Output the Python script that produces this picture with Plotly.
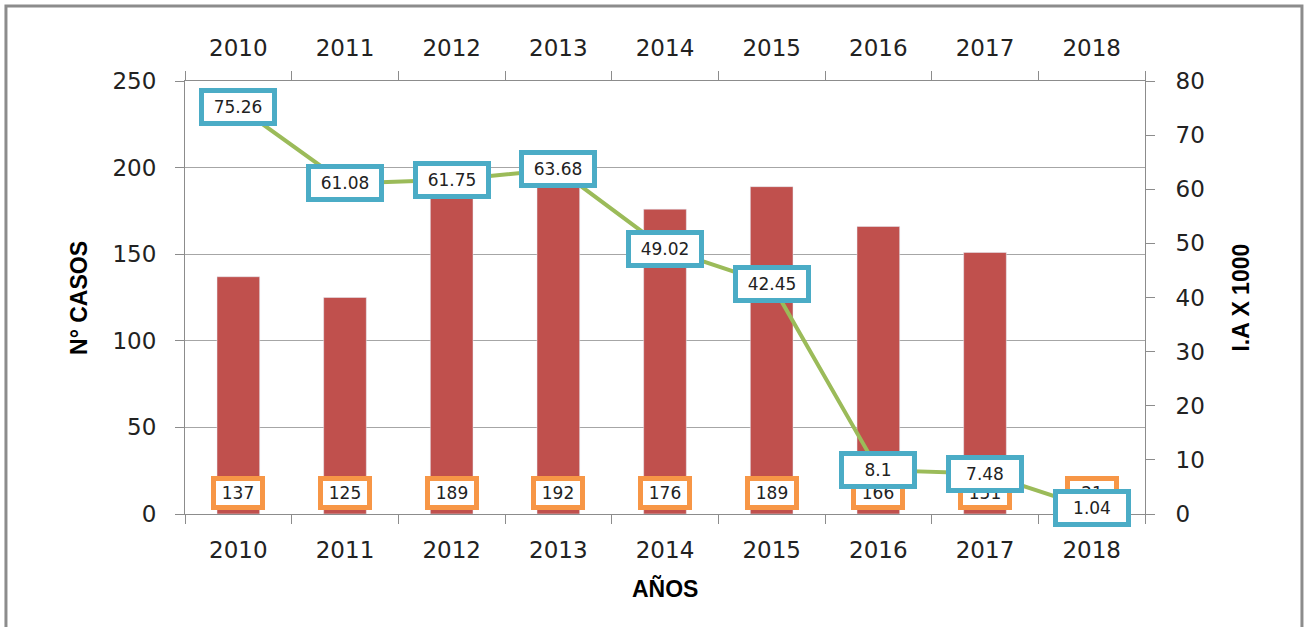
import plotly.graph_objects as go

years = ["2010", "2011", "2012", "2013", "2014", "2015", "2016", "2017", "2018"]
casos = [137, 125, 189, 192, 176, 189, 166, 151, 21]
ia_x1000 = [75.26, 61.08, 61.75, 63.68, 49.02, 42.45, 8.1, 7.48, 1.04]

BAR_COLOR = "#C0504D"
LINE_COLOR = "#9BBB59"
BLUE = "#4BACC6"
ORANGE = "#F79646"
AXIS_C = "#8c8c8c"
GRID_C = "#a6a6a6"
TICK_FONT = dict(family="DejaVu Sans", size=23, color="#222222")
TITLE_FONT = dict(family="Liberation Sans", size=23, color="#000000")
LABEL_FONT = dict(family="DejaVu Sans", size=17, color="#222222")

fig = go.Figure()
fig.add_trace(go.Bar(x=years, y=casos, marker_color=BAR_COLOR, width=0.4,
                     xaxis="x", yaxis="y", hoverinfo="x+y"))
fig.add_trace(go.Scatter(x=years, y=ia_x1000, mode="lines",
                         line=dict(color=LINE_COLOR, width=4),
                         xaxis="x2", yaxis="y2"))

annotations = []
for i, v in enumerate(casos):
    annotations.append(dict(x=i, y=0, xref="x", yref="y", yshift=21,
                            text=str(v), showarrow=False,
                            xanchor="center", yanchor="middle",
                            font=LABEL_FONT,
                            bgcolor="white", bordercolor=ORANGE, borderwidth=5,
                            borderpad=0, width=44, height=24))
for i, v in enumerate(ia_x1000):
    annotations.append(dict(x=i, y=v, xref="x2", yref="y2",
                            text=f"{v:g}", showarrow=False,
                            xanchor="center", yanchor="middle",
                            font=LABEL_FONT,
                            bgcolor="white", bordercolor=BLUE, borderwidth=5,
                            borderpad=0, width=68, height=28))

annotations += [
    dict(text="<b>N° CASOS</b>", xref="paper", yref="paper", x=-0.111, y=0.5,
         textangle=-90, showarrow=False, font=TITLE_FONT,
         xanchor="center", yanchor="middle"),
    dict(text="<b>I.A X 1000</b>", xref="paper", yref="paper", x=1.099, y=0.5,
         textangle=-90, showarrow=False, font=TITLE_FONT,
         xanchor="center", yanchor="middle"),
    dict(text="<b>AÑOS</b>", xref="paper", yref="paper", x=0.5, y=-0.173,
         showarrow=False, font=TITLE_FONT, xanchor="center", yanchor="middle"),
]

fig.update_layout(
    width=1311, height=627,
    margin=dict(l=185, r=166, t=81, b=113),
    paper_bgcolor="white", plot_bgcolor="white",
    showlegend=False,
    annotations=annotations,
    xaxis=dict(type="category", categoryorder="array", categoryarray=years,
               range=[-0.5, 8.5], showline=True, linecolor=AXIS_C, linewidth=1,
               ticks="outside", tickson="boundaries", ticklen=9, tickcolor=AXIS_C,
               showgrid=False, tickfont=TICK_FONT, ticklabelstandoff=15, anchor="y"),
    xaxis2=dict(type="category", categoryorder="array", categoryarray=years,
                range=[-0.5, 8.5], overlaying="x", side="top", anchor="y",
                showline=True, linecolor=AXIS_C, linewidth=1,
                ticks="outside", tickson="boundaries", ticklen=9, tickcolor=AXIS_C,
                showgrid=False, tickfont=TICK_FONT, ticklabelstandoff=15),
    yaxis=dict(range=[0, 250], dtick=50, showline=True, linecolor=AXIS_C,
               ticks="outside", ticklen=9, tickcolor=AXIS_C,
               showgrid=True, gridcolor=GRID_C, gridwidth=1, zeroline=False,
               tickfont=TICK_FONT, ticklabelstandoff=14),
    yaxis2=dict(range=[0, 80], dtick=10, overlaying="y", side="right", anchor="x",
                showline=True, linecolor=AXIS_C, ticks="outside", ticklen=9,
                tickcolor=AXIS_C, showgrid=False, zeroline=False,
                tickfont=TICK_FONT, ticklabelstandoff=16),
    shapes=[dict(type="rect", xref="paper", yref="paper",
                 x0=-0.1865, x1=1.1635, y0=-0.35, y1=1.173,
                 line=dict(color=AXIS_C, width=3), fillcolor="rgba(0,0,0,0)",
                 layer="above")],
)

fig.write_html("out.html", config={"displayModeBar": False},
               post_script="document.body.style.margin='0px';")
